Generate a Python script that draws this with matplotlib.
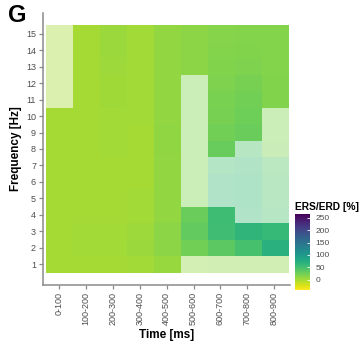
import numpy as np
import matplotlib
matplotlib.use("Agg")
from matplotlib import pyplot as plt
from matplotlib.colors import Normalize
from matplotlib.cm import ScalarMappable

plt.rcParams["font.family"] = ["Liberation Sans", "DejaVu Sans"]

# Categorias
times = ["0-100", "100-200", "200-300", "300-400", "400-500",
         "500-600", "600-700", "700-800", "800-900"]
freqs = list(range(1, 16))
cbar_ticks = [0, 50, 100, 150, 200, 250]

# ERS/ERD [%] por frequencia (linhas 1..15 Hz) e tempo (colunas)
values = [
    [-1, 0, 0, 1, 6, 8, 10, 10, 10],      # 1 Hz
    [0, 1, 1, 4, 12, 24, 36, 48, 70],     # 2 Hz
    [0, 1, 1, 3, 12, 32, 52, 64, 60],     # 3 Hz
    [-1, 0, 0, 1, 8, 28, 54, 56, 46],     # 4 Hz
    [-1, 0, 0, 1, 8, 18, 56, 58, 42],     # 5 Hz
    [0, 0, 0, 0, 8, 18, 56, 58, 42],      # 6 Hz
    [0, 0, 0, 0, 8, 18, 50, 54, 38],      # 7 Hz
    [0, 0, 1, 0, 9, 18, 30, 44, 20],      # 8 Hz
    [0, 0, 1, 0, 9, 18, 24, 28, 18],      # 9 Hz
    [0, 0, 1, 1, 8, 18, 21, 26, 18],      # 10 Hz
    [-1, 0, 2, 1, 8, 18, 20, 23, 16],     # 11 Hz
    [-1, 0, 2, 1, 8, 18, 18, 21, 16],     # 12 Hz
    [-1, 0, 3, 1, 8, 12, 16, 17, 15],     # 13 Hz
    [-1, 0, 4, 1, 8, 11, 15, 16, 15],     # 14 Hz
    [-1, 0, 4, 1, 8, 11, 14, 15, 15],     # 15 Hz
]

# 1 = significativo (cor cheia), 0 = nao significativo (transparente)
signif = [
    [1, 1, 1, 1, 1, 0, 0, 0, 0],
    [1, 1, 1, 1, 1, 1, 1, 1, 1],
    [1, 1, 1, 1, 1, 1, 1, 1, 1],
    [1, 1, 1, 1, 1, 1, 1, 0, 0],
    [1, 1, 1, 1, 1, 0, 0, 0, 0],
    [1, 1, 1, 1, 1, 0, 0, 0, 0],
    [1, 1, 1, 1, 1, 0, 0, 0, 0],
    [1, 1, 1, 1, 1, 0, 1, 0, 0],
    [1, 1, 1, 1, 1, 0, 1, 1, 0],
    [1, 1, 1, 1, 1, 0, 1, 1, 0],
    [0, 1, 1, 1, 1, 0, 1, 1, 1],
    [0, 1, 1, 1, 1, 0, 1, 1, 1],
    [0, 1, 1, 1, 1, 1, 1, 1, 1],
    [0, 1, 1, 1, 1, 1, 1, 1, 1],
    [0, 1, 1, 1, 1, 1, 1, 1, 1],
]

vals = np.array(values, dtype=float)
alpha = np.where(np.array(signif) == 1, 1.0, 0.4)
norm = Normalize(vmin=-42, vmax=266)
cmap = "viridis_r"
gray = "#8a8a8a"

fig = plt.figure(figsize=(3.6, 3.52), dpi=100)
ax = fig.add_axes([43 / 360, 67 / 352, 247.4 / 360, 272 / 352])

ax.imshow(vals, cmap=cmap, norm=norm, alpha=alpha, origin="lower",
          extent=(0.5, len(times) + 0.5, 0.5, len(freqs) + 0.5),
          aspect="auto", interpolation="nearest")
ax.set_xlim(0.4, len(times) + 0.6)
ax.set_ylim(-0.25, 16.25)

ax.set_xticks(range(1, len(times) + 1))
ax.set_xticklabels(times, rotation=90)
ax.set_yticks(freqs)
ax.set_yticklabels([str(f) for f in freqs])

for s in ["top", "right"]:
    ax.spines[s].set_visible(False)
for s in ["left", "bottom"]:
    ax.spines[s].set_color(gray)
    ax.spines[s].set_linewidth(1.1)
ax.tick_params(colors=gray, labelcolor="#4d4d4d", labelsize=6.5,
               length=3, width=0.9, pad=2)

ax.set_xlabel("Time [ms]", fontsize=8.5, fontweight="bold", labelpad=3)
ax.set_ylabel("Frequency [Hz]", fontsize=8.5, fontweight="bold", labelpad=3)

fig.text(8 / 360, 1 - 4 / 352, "G", fontsize=17, fontweight="bold",
         va="top", ha="left")

# Barra de cores
cax = fig.add_axes([295 / 360, 62 / 352, 15 / 360, 76 / 352])
cb = fig.colorbar(ScalarMappable(norm=norm, cmap=cmap), cax=cax,
                  ticks=cbar_ticks)
cb.outline.set_visible(False)
cax.tick_params(direction="in", length=2.5, width=0.6, color="white",
                labelcolor="#4d4d4d", labelsize=6, pad=4)
fig.text(295 / 360, 1 - 207 / 352, "ERS/ERD [%]", fontsize=7.4,
         fontweight="bold", va="center", ha="left")

plt.savefig("out.png", dpi=100)
